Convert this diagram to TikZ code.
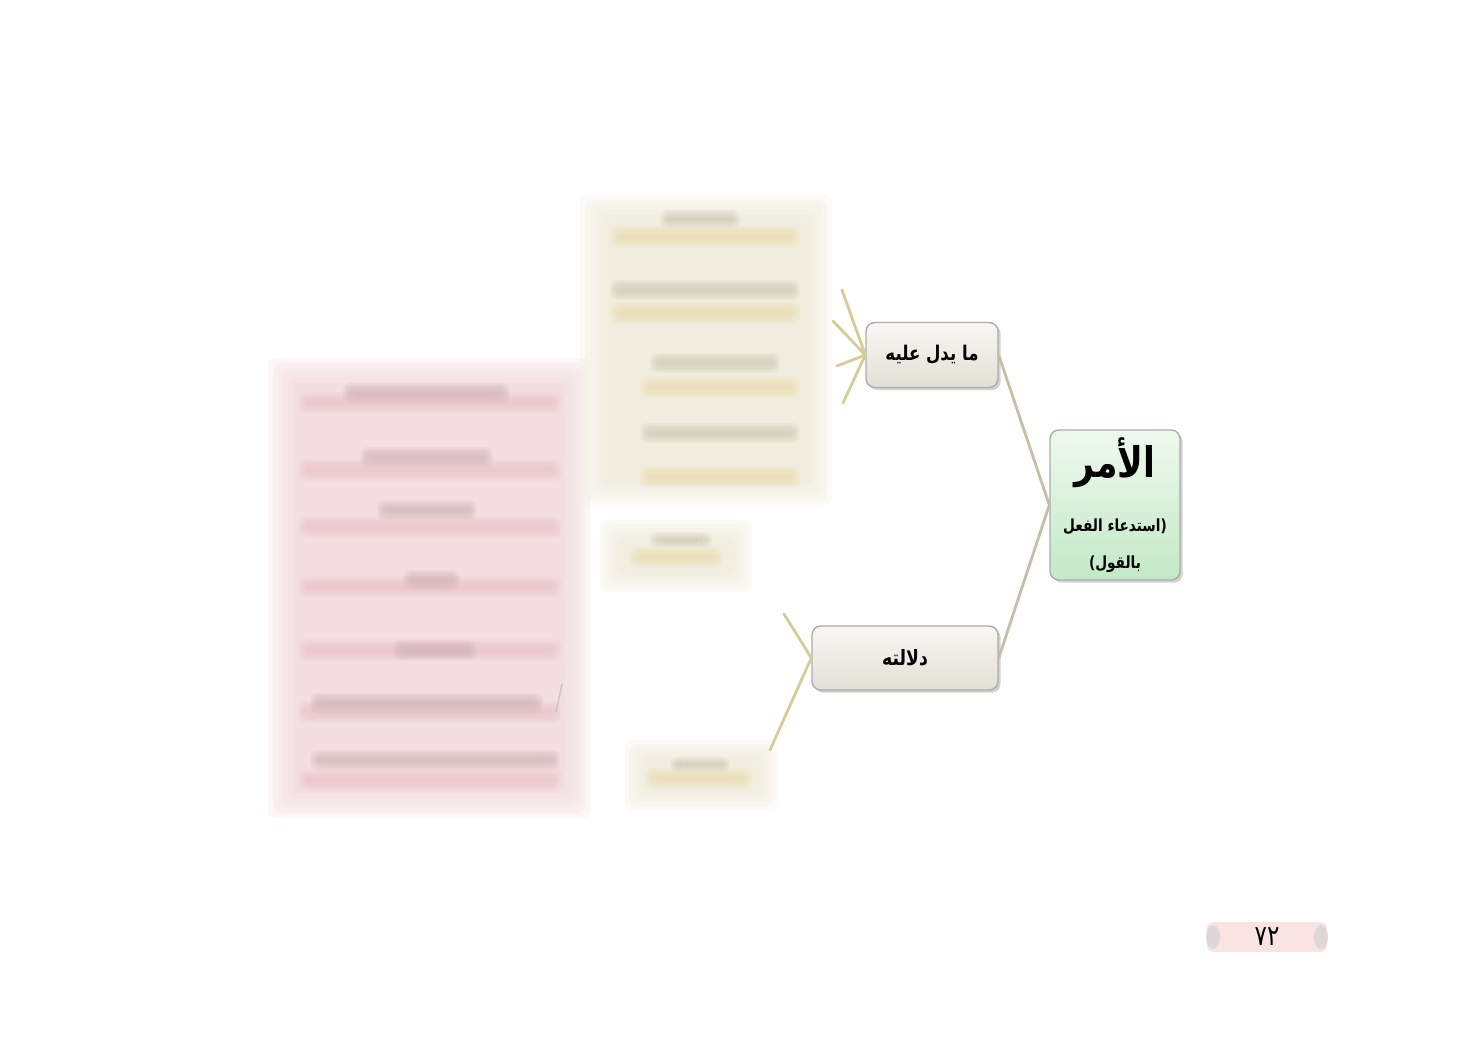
\documentclass[tikz,border=0pt]{standalone}
\usepackage{fontspec}
\newfontfamily\arabicfont[Script=Arabic,FakeStretch=0.82]{DejaVu Sans}
\TeXXeTstate=1
\usetikzlibrary{shadows}

\definecolor{rootgreen}{HTML}{C3E9C6}
\definecolor{roottop}{HTML}{EEF9EE}
\definecolor{boxgray}{HTML}{E2DFD5}
\definecolor{boxtop}{HTML}{F8F7F3}
\definecolor{edgegray}{HTML}{C6BEA8}
\definecolor{raytan}{HTML}{D5CD96}
\definecolor{blurpink}{HTML}{F0D6D8}
\definecolor{stripepink}{HTML}{EBC4C8}
\definecolor{inkpink}{HTML}{CFB2B5}
\definecolor{blurcream}{HTML}{EEEAD6}
\definecolor{stripecream}{HTML}{EADBAC}
\definecolor{inkcream}{HTML}{CCC7B2}
\definecolor{tagpink}{HTML}{F9E4E4}

% soft (blurred) block: x1 y1 x2 y2 colour step
\newcommand{\softblock}[6]{%
  \foreach \k in {0,...,5}{\fill[#5,opacity=0.2,rounded corners=4pt] ({#1+\k*#6},{#2+\k*#6}) rectangle ({#3-\k*#6},{#4-\k*#6});}}

\begin{document}
\begin{tikzpicture}[x=0.02cm,y=-0.02cm]
\tikzstyle{topic}=[rectangle,rounded corners=5pt,draw=gray!65,line width=0.8pt,top color=boxtop,bottom color=boxgray,drop shadow={opacity=0.35,shadow xshift=1.5pt,shadow yshift=-1.5pt},font=\arabicfont\bfseries\fontsize{12}{14}\selectfont,inner sep=0pt]
\tikzstyle{mainbox}=[topic,top color=roottop,bottom color=rootgreen,align=center]
\tikzstyle{link}=[draw=edgegray,line width=1.6pt]
\tikzstyle{ray}=[draw=raytan,line width=1.6pt,line cap=round]
\tikzstyle{pagetag}=[rectangle,rounded corners=3pt,fill=tagpink,minimum width=2.4cm,minimum height=0.52cm,font=\arabicfont\fontsize{16}{16}\selectfont]
\useasboundingbox[fill=white] (0,0) rectangle (1477,1040);

% blurred pink block
\softblock{268}{358}{590}{818}{blurpink}{5}
\foreach \y in {403,470,527,587,650,712,780} {\softblock{298}{\y-11}{562}{\y+11}{stripepink}{2}}
\softblock{343}{383}{510}{403}{inkpink}{2}
\softblock{360}{447}{493}{467}{inkpink}{2}
\softblock{377}{500}{477}{520}{inkpink}{2}
\softblock{403}{570}{460}{590}{inkpink}{2}
\softblock{393}{640}{477}{660}{inkpink}{2}
\softblock{310}{693}{543}{713}{inkpink}{2}
\softblock{310}{750}{560}{770}{inkpink}{2}
\draw[gray!45,line width=0.8pt] (562,684) -- (556,712);

% blurred cream blocks
\softblock{580}{195}{832}{505}{blurcream}{5}
\softblock{610}{226}{800}{248}{stripecream}{2}
\softblock{610}{302}{800}{324}{stripecream}{2}
\softblock{640}{376}{800}{398}{stripecream}{2}
\softblock{640}{466}{800}{488}{stripecream}{2}
\softblock{660}{210}{740}{228}{inkcream}{2}
\softblock{610}{280}{800}{300}{inkcream}{2}
\softblock{650}{353}{780}{373}{inkcream}{2}
\softblock{640}{423}{800}{443}{inkcream}{2}
\softblock{600}{520}{752}{592}{blurcream}{4}
\softblock{630}{547}{722}{567}{stripecream}{2}
\softblock{650}{532}{712}{548}{inkcream}{2}
\softblock{625}{740}{777}{810}{blurcream}{4}
\softblock{645}{768}{752}{788}{stripecream}{2}
\softblock{670}{757}{730}{772}{inkcream}{2}

% nodes
\node[mainbox,minimum width=2.6cm,minimum height=3cm] (amr) at (1115,505)
  {{\fontsize{24}{26}\selectfont\beginR الأمر\endR}\\[17pt]
   {\fontsize{9.5}{11}\selectfont\beginR (استدعاء الفعل\endR}\\[7pt]
   {\fontsize{9.5}{11}\selectfont\beginR بالقول)\endR}};
\node[topic,minimum width=2.64cm,minimum height=1.3cm,font=\arabicfont\bfseries\fontsize{11.5}{14}\selectfont] (yadul) at (932,355) {\beginR ما يدل عليه\endR};
\node[topic,minimum width=3.72cm,minimum height=1.28cm] (dalala) at (905,658) {\beginR دلالته\endR};

% connectors
\draw[link] (yadul.east) -- (amr.west) -- (dalala.east);

\coordinate (ra) at (842,290);
\coordinate (rb) at (833,321);
\coordinate (rc) at (837,366);
\coordinate (rd) at (843,403);
\foreach \r in {ra,rb,rc,rd} {\draw[ray] (yadul.west) -- (\r);}
\coordinate (re) at (784,614);
\coordinate (rf) at (770,750);
\draw[ray] (re) -- (dalala.west) -- (rf);

% page number
\node[pagetag] (pagenum) at (1267,937) {٧٢};
\fill[gray!35,opacity=0.7] (1213,937) ellipse (7 and 12);
\fill[gray!35,opacity=0.7] (1321,937) ellipse (7 and 12);
\end{tikzpicture}
\end{document}
